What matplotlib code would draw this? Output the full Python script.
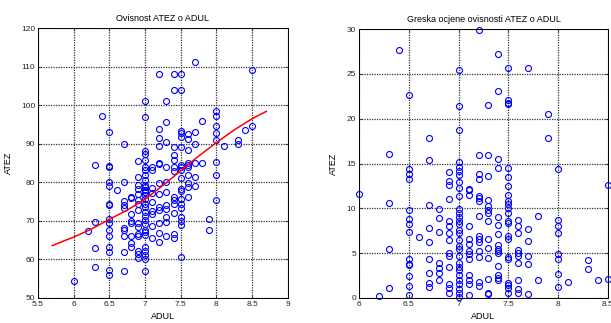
import numpy as np
import matplotlib
matplotlib.use("Agg")
import matplotlib.pyplot as plt

plt.rcParams['font.family'] = ['Liberation Sans', 'DejaVu Sans']

# ATEZ vs ADUL (x value -> list of y values)
atez = {
    6.0: [54.3],
    6.2: [67.5],
    6.3: [84.6, 69.6, 62.9, 58.0],
    6.4: [97.1],
    6.5: [93.1, 84.3, 84.0, 80.1, 79.0, 74.3, 74.0, 70.6, 69.5, 67.7, 66.0, 63.1, 61.9, 57.3, 55.9],
    6.6: [77.9],
    6.7: [90.0, 80.0, 75.1, 74.0, 73.3, 68.1, 67.7, 66.1, 61.9, 57.0],
    6.8: [76.2, 75.9, 71.9, 70.0, 69.5, 66.0, 64.3, 63.2],
    6.9: [85.6, 81.4, 79.4, 78.3, 77.1, 75.5, 74.3, 72.9, 69.5, 68.4, 66.7, 66.2, 62.1, 61.3, 60.4],
    7.0: [101.2, 97.0, 88.2, 87.3, 85.8, 84.0, 83.2, 81.9, 80.6, 79.4, 78.8, 78.1, 77.4, 76.7,
          75.8, 74.5, 73.5, 72.3, 71.2, 70.2, 69.1, 67.7, 67.1, 66.4, 63.1, 62.2, 61.2, 60.2, 57.0],
    7.1: [84.0, 83.2, 78.6, 77.3, 75.0, 72.6, 71.9, 68.8, 65.5],
    7.2: [108.1, 93.9, 91.5, 89.4, 85.1, 84.7, 79.9, 77.1, 73.5, 72.8, 69.5, 66.9, 64.4],
    7.3: [101.2, 95.7, 90.5, 84.0, 80.1, 77.5, 74.2, 73.2, 71.0, 69.7, 66.2],
    7.4: [108.1, 104.0, 89.1, 87.0, 85.8, 84.0, 83.0, 76.2, 75.4, 74.3, 72.1, 66.5, 65.5],
    7.5: [108.1, 104.0, 93.4, 92.9, 91.8, 89.2, 84.4, 83.9, 83.2, 81.0, 78.3, 77.8, 75.6, 74.3,
          73.3, 71.0, 70.0, 68.9, 60.6],
    7.6: [92.5, 91.3, 88.5, 85.1, 84.6, 83.9, 82.0, 79.9, 78.8, 76.1],
    7.7: [111.2, 93.0, 89.9, 84.9, 81.3, 79.0],
    7.8: [96.0, 84.9],
    7.9: [70.5, 67.7],
    8.0: [98.6, 97.2, 94.6, 92.7, 91.1, 85.4, 82.0, 75.4],
    8.1: [89.4],
    8.3: [91.1, 89.9],
    8.4: [93.6],
    8.5: [109.2, 94.6],
}

# fitted curve (red line)
fit_x = [5.7, 6.0, 6.25, 6.5, 6.75, 7.0, 7.25, 7.5, 7.75, 8.0, 8.25, 8.5, 8.7]
fit_y = [63.6, 65.8, 67.9, 70.4, 72.8, 75.6, 79.2, 83.0, 86.8, 90.3, 93.6, 96.5, 98.4]

# estimation error
greska = {
    6.0: [11.6],
    6.2: [0.2],
    6.3: [16.1, 10.6, 5.5, 1.1],
    6.4: [27.7],
    6.5: [22.7, 14.4, 13.8, 13.3, 9.8, 8.8, 8.3, 7.4, 4.4, 3.8, 3.7, 2.4, 1.3, 0.3],
    6.6: [6.8],
    6.7: [17.8, 15.4, 10.4, 7.8, 6.3, 4.3, 2.8, 1.7, 1.2],
    6.8: [9.9, 8.9, 7.4, 3.9, 3.4, 2.8, 2.0],
    6.9: [14.1, 13.0, 12.6, 11.0, 8.6, 8.0, 7.2, 6.5, 5.0, 4.7, 3.5, 1.6, 1.1, 0.6],
    7.0: [25.4, 21.4, 18.7, 15.2, 14.6, 14.2, 13.7, 12.9, 12.3, 11.4, 9.9, 9.5, 9.0, 8.6, 8.3,
          7.6, 7.2, 6.5, 5.8, 5.5, 4.7, 3.9, 3.5, 3.1, 2.6, 2.0, 1.6, 1.0, 0.6, 0.1],
    7.1: [12.2, 12.0, 11.5, 8.0, 6.6, 6.0, 5.2, 4.9, 4.4, 2.6, 2.0, 1.6, 0.3],
    7.2: [29.9, 15.9, 13.8, 13.3, 11.4, 11.2, 10.8, 9.2, 6.9, 6.6, 6.3, 5.2, 4.6, 1.8, 1.3],
    7.3: [21.5, 16.0, 13.6, 10.9, 10.3, 9.8, 9.5, 8.6, 6.6, 5.6, 4.5, 2.1, 0.6, 0.5],
    7.4: [27.2, 23.1, 15.5, 14.5, 9.0, 8.1, 7.1, 5.9, 5.5, 5.2, 5.0, 3.6, 2.6, 2.2, 2.0],
    7.5: [25.7, 22.1, 21.8, 21.6, 14.5, 13.5, 12.5, 11.5, 10.8, 10.5, 10.0, 9.5, 8.6, 8.4,
          6.9, 6.6, 4.6, 4.4, 1.7, 1.4, 1.1, 0.6],
    7.6: [8.7, 8.0, 7.2, 5.3, 5.0, 4.7, 3.9, 2.0, 1.0, 0.6],
    7.7: [25.7, 7.7, 6.4, 4.7, 3.8, 0.5],
    7.8: [9.2, 2.0],
    7.9: [20.5, 17.9],
    8.0: [14.4, 8.7, 8.0, 7.2, 4.9, 4.4, 2.7, 1.2],
    8.1: [1.8],
    8.3: [4.2, 3.2],
    8.4: [2.0],
    8.5: [12.6, 2.1],
}


def flatten(d):
    xs, ys = [], []
    for k, vals in d.items():
        xs += [k] * len(vals)
        ys += vals
    return np.array(xs), np.array(ys)


def style(ax):
    ax.grid(True, color="0.2", linestyle=(0, (1, 1)), linewidth=0.9)
    ax.tick_params(direction="in", top=True, right=True, labelsize=6,
                   length=2.5, width=0.6, colors="0.15", pad=2)
    for s in ax.spines.values():
        s.set_linewidth(0.7)


fig = plt.figure(figsize=(6.11, 3.23), dpi=100)
ax1 = fig.add_axes([0.0622, 0.0774, 0.4088, 0.8356])
ax2 = fig.add_axes([0.5876, 0.0774, 0.4074, 0.8326])

x1, y1 = flatten(atez)
ax1.plot(x1, y1, "o", mfc="none", mec="#0000ff", ms=4.3, mew=0.8)
ax1.plot(fit_x, fit_y, "-", color="#ff0000", lw=1.1)
ax1.set_xlim(5.5, 9)
ax1.set_ylim(50, 120)
ax1.set_xticks(np.arange(5.5, 9.01, 0.5))
ax1.set_xticklabels(["5.5", "6", "6.5", "7", "7.5", "8", "8.5", "9"])
ax1.set_yticks(np.arange(50, 121, 10))
ax1.set_title("Ovisnost ATEZ o ADUL", fontsize=6.5, pad=5)
ax1.set_xlabel("ADUL", fontsize=6.5, labelpad=3)
ax1.set_ylabel("ATEZ", fontsize=6.5, labelpad=6)
style(ax1)

x2, y2 = flatten(greska)
ax2.plot(x2, y2, "o", mfc="none", mec="#0000ff", ms=4.3, mew=0.8, clip_on=False)
ax2.set_xlim(6, 8.5)
ax2.set_ylim(0, 30)
ax2.set_xticks(np.arange(6, 8.51, 0.5))
ax2.set_xticklabels(["6", "6.5", "7", "7.5", "8", "8.5"])
ax2.set_yticks(np.arange(0, 31, 5))
ax2.set_title("Greska ocjene ovisnosti ATEZ o ADUL", fontsize=6.5, pad=5)
ax2.set_xlabel("ADUL", fontsize=6.5, labelpad=3)
ax2.set_ylabel("ATEZ", fontsize=6.5, labelpad=6)
style(ax2)

fig.savefig("out.png", dpi=100)
